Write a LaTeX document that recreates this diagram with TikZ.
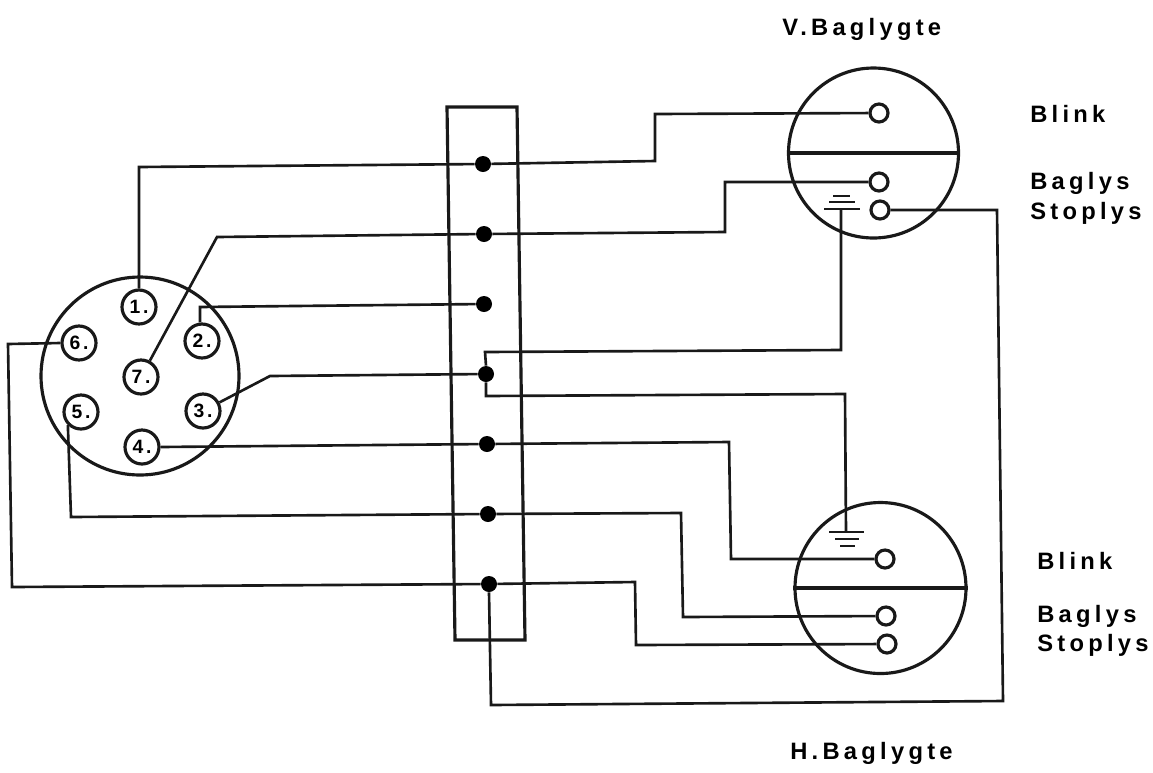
\documentclass[tikz,border=0pt]{standalone}
\usepackage{fontspec}
\newfontfamily\platefont[LetterSpace=18]{Liberation Sans}
\newfontfamily\pinfont[LetterSpace=14]{Liberation Sans}

\begin{document}
\begin{tikzpicture}[
	x=0.02cm, y=-0.02cm,
	wire/.style={line width=1.5pt, black!90},
	rim/.style={circle, draw=black!90, line width=1.8pt, inner sep=0pt},
	plug/.style={rim, minimum size=34*0.02cm, font=\pinfont\bfseries\fontsize{11}{11}\selectfont},
	lampin/.style={rim, minimum size=18*0.02cm},
	dot/.style={circle, fill=black, inner sep=0pt, minimum size=16*0.02cm},
	label/.style={anchor=west, inner sep=0pt, font=\platefont\bfseries\fontsize{13.5}{13.5}\selectfont},
	]
	\useasboundingbox (0,0) rectangle (1153,772);
	
	%-----------------------
	% Round plug with pins
	%-----------------------
	\node[rim, minimum size=198*0.02cm] (plugbody) at (140,376) {};
	\node[plug] (P1) at (139,307) {1.};
	\node[plug] (P2) at (202,341) {2.};
	\node[plug] (P3) at (203,411) {3.};
	\node[plug] (P4) at (142,447) {4.};
	\node[plug] (P5) at (81,412) {5.};
	\node[plug] (P6) at (79,343) {6.};
	\node[plug] (P7) at (141,377) {7.};
	
	%-----------------------
	% Terminal strip
	%-----------------------
	\draw[wire, line width=1.8pt] (447,107) -- (517,107) -- (525,640) -- (455,640) -- cycle;
	\node[dot] (T1) at (483,164) {};
	\node[dot] (T2) at (484,234) {};
	\node[dot] (T3) at (484,304) {};
	\node[dot] (T4) at (486,374) {};
	\node[dot] (T5) at (487,444) {};
	\node[dot] (T6) at (488,514) {};
	\node[dot] (T7) at (489,584) {};
	
	%-----------------------
	% Upper lamp
	%-----------------------
	\node[rim, minimum size=170*0.02cm] (Vlamp) at (873.5,153) {};
	\draw[wire, line width=1.8pt] (Vlamp.west) -- (Vlamp.east);
	\node[lampin] (V1) at (879,113) {};
	\node[lampin] (V2) at (879,182) {};
	\node[lampin] (V3) at (880,210) {};
	
	%-----------------------
	% Lower lamp
	%-----------------------
	\node[rim, minimum size=171*0.02cm] (Hlamp) at (880.5,588) {};
	\draw[wire, line width=1.8pt] (Hlamp.west) -- (Hlamp.east);
	\node[lampin] (H1) at (885,559) {};
	\node[lampin] (H2) at (886,616) {};
	\node[lampin] (H3) at (887,644) {};
	
	%-----------------------
	% Ground symbols
	%-----------------------
	\coordinate (Vgnd) at (841,209);
	\coordinate (Hgnd) at (846,532);
	\draw[wire] (824,209) -- (860,209);
	\draw[wire] (829,202) -- (855,202);
	\draw[wire, line width=1pt] (833,196) -- (850,196);
	\draw[wire] (829,532) -- (864,532);
	\draw[wire] (835,539) -- (859,539);
	\draw[wire, line width=1pt] (840,546) -- (855,546);
	
	%-----------------------
	% Connections
	%-----------------------
	% Plug -> strip
	\draw[wire] (P1.north) -- (139,167) -- (T1);
	\draw[wire] (P2.north -| 200,0) -- (200,307) -- (T3);
	\draw[wire] (P3) -- (270,376) -- (T4);
	\draw[wire] (P4.east) -- (T5);
	\draw[wire] (P5.south west) -- (71,517) -- (T6);
	\draw[wire] (P6.west) -- (8,344) -- (12,587) -- (T7);
	\draw[wire] (P7) -- (217,237) -- (T2);
	
	% Strip -> upper lamp
	\draw[wire] (T1) -- (655,161) -- (655,114) -- (V1);
	\draw[wire] (T2) -- (725,232) -- (725,182) -- (V2);
	\draw[wire] (T4.north) -- (485,352) -- (841,350) -- (Vgnd);
	
	% Strip -> lower lamp
	\draw[wire] (T4.south) -- (486,396) -- (845,394) -- (Hgnd);
	\draw[wire] (T5) -- (729,442) -- (731,559) -- (H1);
	\draw[wire] (T6) -- (681,513) -- (683,617) -- (H2);
	\draw[wire] (T7) -- (635,582) -- (636,645) -- (H3);
	
	% Strip -> upper lamp, around the lower one
	\draw[wire] (T7.south) -- (491,705) -- (1003,701) -- (997,210) -- (V3);
	
	%-----------------------
	% Labels
	%-----------------------
	\node[label] (Vname) at (782,29) {V.Baglygte};
	\node[label] (Vblink) at (1030,114) {Blink};
	\node[label] (Vbag) at (1030,183) {Baglys};
	\node[label] (Vstop) at (1030,213) {Stoplys};
	\node[label] (Hblink) at (1037,561) {Blink};
	\node[label] (Hbag) at (1037,616) {Baglys};
	\node[label] (Hstop) at (1037,645) {Stoplys};
	\node[label] (Hname) at (790,753) {H.Baglygte};
	
\end{tikzpicture}
\end{document}
